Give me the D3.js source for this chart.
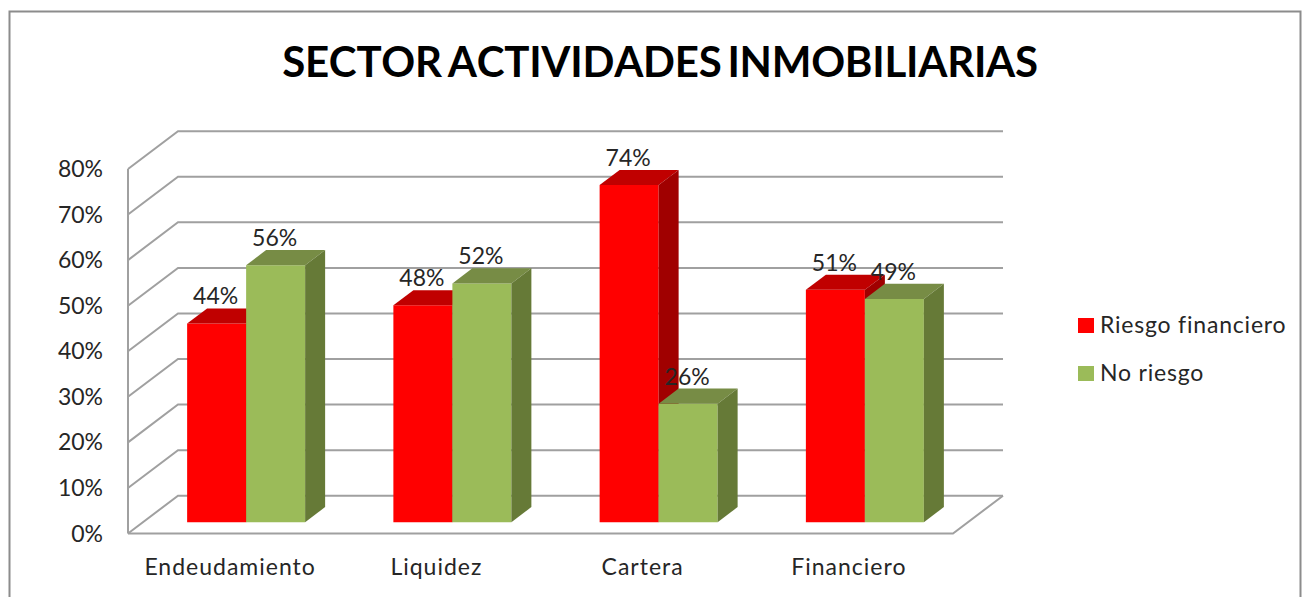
<!DOCTYPE html>
<html><head><meta charset="utf-8">
<script src="https://cdn.jsdelivr.net/npm/d3@7"></script>
<style>html,body{margin:0;padding:0;background:#fff;overflow:hidden}svg{display:block;font-family:Lato,"Open Sans",sans-serif}</style>
</head><body><svg id="c" width="1302" height="597"></svg>
<script>
const titleText = "SECTOR ACTIVIDADES INMOBILIARIAS";
const categories = ["Endeudamiento","Liquidez","Cartera","Financiero"];
const seriesNames = ["Riesgo financiero","No riesgo"];
const riesgo = [43.6,47.6,74,51];
const noRiesgo = [56.4,52.4,26,49];
const yTicks = [0,10,20,30,40,50,60,70,80];
const faceColors = ["#ff0000","#9bbb59"];
const topColors = ["#c00000","#778c45"];
const sideColors = ["#a00000","#667a37"];
const gridColor = "#a0a0a0", textColor = "#262626";

const svg = d3.select("#c");
const x = d3.scaleBand().domain(categories).range([128,953]);
const y = d3.scaleLinear().domain([0,80]).range([533.5,169]);
const dx = d3.scaleLinear().domain([0,1]).range([0,50]);
const dy = d3.scaleLinear().domain([0,1]).range([0,-37.8]);
const barW = 59, zFront = 0.3, zBack = 0.7;
const P = (px,v,z)=>[px+dx(z), y(v)+dy(z)];
const poly = (pts,fill)=>svg.append("polygon").attr("points",pts.map(p=>p.join(",")).join(" ")).attr("fill",fill);

// outer frame
svg.append("path").attr("d","M9.5,597V11.5H1300.5V597").attr("fill","none").attr("stroke","#8c8c8c").attr("stroke-width",2);

// title
svg.append("text").attr("x",660).attr("y",77).attr("text-anchor","middle")
  .attr("font-size",42).attr("font-weight",700).attr("fill","#000")
  .style("font-kerning","none").attr("letter-spacing",-0.25).attr("word-spacing",-4).text(titleText);

// walls and gridlines
const grid = svg.append("g").attr("fill","none").attr("stroke",gridColor).attr("stroke-width",2);
yTicks.forEach(t=>{
  const a=P(128,t,0), b=P(128,t,1), c=P(953,t,1);
  grid.append("polyline").attr("points",[a,b,c].map(p=>p.join(",")).join(" "));
});
grid.append("line").attr("x1",128).attr("x2",128).attr("y1",y(80)).attr("y2",y(0));
grid.append("polyline").attr("points",[P(128,0,0),P(953,0,0),P(953,0,1)].map(p=>p.join(",")).join(" "));

// axis labels
svg.append("g").selectAll("text").data(yTicks).join("text")
  .attr("x",103).attr("y",d=>y(d)+8).attr("text-anchor","end")
  .attr("font-size",23).attr("fill",textColor).text(d=>d+"%");
svg.append("g").selectAll("text").data(categories).join("text")
  .attr("x",d=>x(d)+x.bandwidth()/2-1).attr("y",575).attr("text-anchor","middle")
  .attr("font-size",23).attr("letter-spacing",1).attr("fill",textColor).text(d=>d);

// bars
const labels=[];
categories.forEach((cat,i)=>{
  const vals=[riesgo[i],noRiesgo[i]];
  const cx=x(cat)+x.bandwidth()/2;
  vals.forEach((v,s)=>{
    const x0=cx-barW+s*barW, x1=x0+barW;
    poly([P(x0,0,zFront),P(x1,0,zFront),P(x1,v,zFront),P(x0,v,zFront)],faceColors[s]);
    poly([P(x0,v,zFront),P(x1,v,zFront),P(x1,v,zBack),P(x0,v,zBack)],topColors[s]);
    poly([P(x1,0,zFront),P(x1,0,zBack),P(x1,v,zBack),P(x1,v,zFront)],sideColors[s]);
    const t=P(x0+barW/2,v,zBack), f=P(x0+barW/2,v,zFront);
    labels.push({x:f[0]-1,y:t[1]-4,v});
  });
});
svg.append("g").selectAll("text").data(labels).join("text")
  .attr("x",d=>d.x).attr("y",d=>d.y).attr("text-anchor","middle")
  .attr("font-size",23).attr("fill",textColor).text(d=>Math.round(d.v)+"%");

// legend
const leg=svg.append("g").selectAll("g").data(seriesNames).join("g")
  .attr("transform",(d,i)=>`translate(1078,${318+i*48})`);
leg.append("rect").attr("width",16).attr("height",15).attr("fill",(d,i)=>faceColors[i]);
leg.append("text").attr("x",22).attr("y",15).attr("font-size",23).attr("letter-spacing",0.8).attr("fill",textColor).text(d=>d);
</script></body></html>
